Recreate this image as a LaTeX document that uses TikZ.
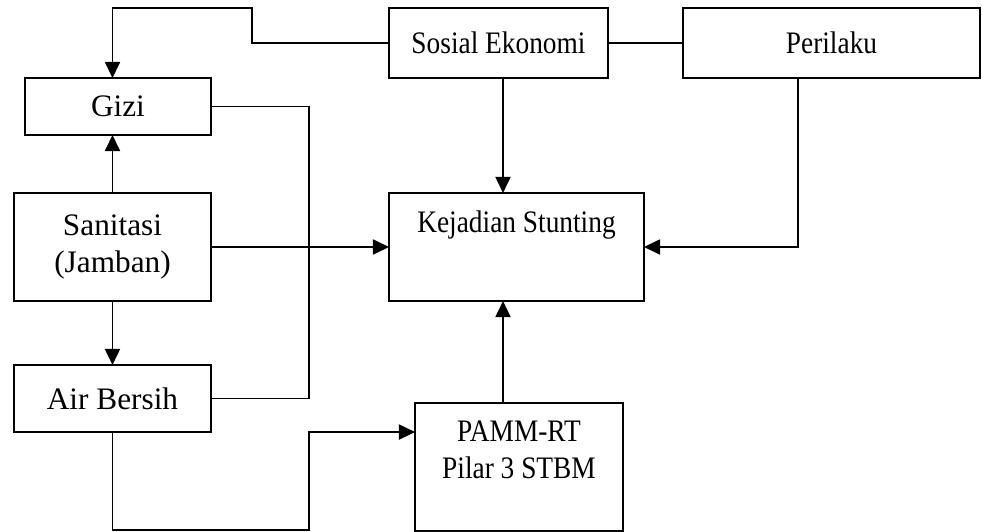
\documentclass[tikz,border=0pt]{standalone}
\usepackage{fontspec}
\setmainfont{Liberation Serif}
\newfontfamily\narrowfont{Liberation Serif}[FakeStretch=0.875]
\usetikzlibrary{positioning,arrows.meta,calc}
\tikzstyle{box}=[draw,line width=0.7pt,inner sep=0pt,outer sep=0pt,align=center,
    font=\fontsize{14.5}{17.5}\selectfont]
\tikzstyle{narrow}=[font=\fontsize{14.5}{17.5}\selectfont\narrowfont]

\begin{document}
\begin{tikzpicture}[x=0.4636pt,y=-0.4636pt,line width=0.9pt,
    >={Triangle[length=7.5pt,width=7pt]}
]
      \useasboundingbox (0,0) rectangle (982,532);

      \node [box,narrow,minimum width=101.5pt,minimum height=32.4pt] (sosial) at (498.5,43) {Sosial Ekonomi};
      \node [box,narrow,minimum width=137.7pt,minimum height=32.4pt] (perilaku) at (831.5,43) {Perilaku};
      \node [box,minimum width=86.2pt,minimum height=26.4pt] (gizi) at (118,106.5) {Gizi};
      \node [box,minimum width=91.3pt,minimum height=50.1pt] (sanitasi) at (112.5,247) {Sanitasi\\(Jamban)};
      \node [box,minimum width=91.3pt,minimum height=31.1pt] (air) at (112.5,398.5) {Air Bersih};

      \node [box,minimum width=118.2pt,minimum height=50.1pt,
             label={[narrow,yshift=10pt]center:Kejadian Stunting}] (stunting) at (516.5,247) {};
      \node [box,minimum width=96.4pt,minimum height=59.3pt,
             label={[narrow,align=center,yshift=8pt]center:PAMM-RT\\Pilar 3 STBM}] (pamm) at (519,467) {};

      \coordinate (bend) at (252,8);
      \coordinate (mid) at (503,247);
      \coordinate (perdown) at (798,247);
      \coordinate (gline) at (309,250);
      \coordinate (abot) at (309,530);
      \coordinate (pin) at ($(pamm.north west)+(0,29)$);

      \draw [->] (sosial.west) -| (bend) -| (sanitasi.north |- gizi.north);
      \draw (sosial.east) -- (perilaku.west);
      \draw [->] (sosial.south -| mid) -- (stunting.north -| mid);
      \draw [->] (perilaku.south -| perdown) |- (stunting.east);

      \draw [->] (sanitasi.north) -- (sanitasi.north |- gizi.south);
      \draw [->] (sanitasi.south) -- (air.north);
      \draw [->] (sanitasi.east) -- (stunting.west);
      \draw (gizi.east) -| (gline) |- (air.east);

      \draw [->] (air.south) |- (abot) |- (pin);
      \draw [->] (pamm.north -| mid) -- (stunting.south -| mid);

    \end{tikzpicture}
\end{document}
